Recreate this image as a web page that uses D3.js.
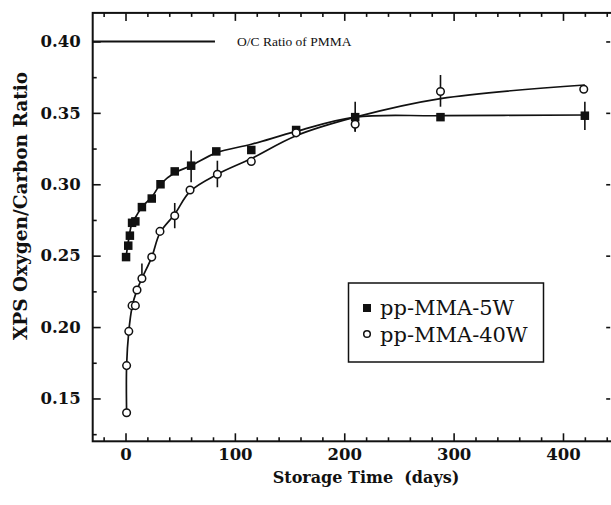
<!DOCTYPE html>
<html><head><meta charset="utf-8">
<script src="https://cdn.jsdelivr.net/npm/d3@7"></script>
<style>html,body{margin:0;padding:0;background:#fff;}svg{display:block;}</style>
</head><body>
<script>
// ---- data ----
const days5W = [0.5, 2.5, 4, 6, 9, 15, 24, 32, 45, 60, 83, 115, 156, 210, 288, 420];
const ratio5W = [0.249, 0.257, 0.264, 0.273, 0.274, 0.284, 0.290, 0.300, 0.309, 0.313, 0.323, 0.324, 0.338, 0.347, 0.347, 0.348];
const days40W = [1, 1, 3, 6, 9, 10.5, 15, 24, 31.5, 45, 59, 84, 115, 156, 210, 288, 419];
const ratio40W = [0.140, 0.173, 0.197, 0.215, 0.215, 0.226, 0.234, 0.249, 0.267, 0.278, 0.296, 0.307, 0.316, 0.336, 0.342, 0.365, 0.3665];
// smooth fit curves drawn through the data
const fitDays5W = [0.5, 3, 6, 10, 15, 24, 32, 45, 60, 83, 115, 156, 210, 288, 420];
const fitRatio5W = [0.249, 0.262, 0.273, 0.278, 0.284, 0.291, 0.300, 0.308, 0.313, 0.322, 0.328, 0.337, 0.347, 0.348, 0.3485];
const fitDays40W = [1, 1, 3, 6, 10, 15, 24, 31.5, 45, 59, 84, 115, 156, 210, 288, 420];
const fitRatio40W = [0.140, 0.173, 0.197, 0.214, 0.225, 0.234, 0.249, 0.266, 0.279, 0.295, 0.307, 0.318, 0.334, 0.347, 0.360, 0.3695];
// error bars
const errDays5W = [60, 210, 420];
const errLo5W = [0.3014, 0.3368, 0.338];
const errHi5W = [0.3236, 0.3578, 0.3578];
const errDays40W = [15, 45, 84, 210, 288];
const errLo40W = [0.234, 0.2692, 0.2979, 0.337, 0.3543];
const errHi40W = [0.2445, 0.2869, 0.3165, 0.349, 0.3765];
const pmmaRatio = 0.40;
const xTicks = [0, 100, 200, 300, 400];
const yTicks = [0.15, 0.20, 0.25, 0.30, 0.35, 0.40];
const seriesNames = ["pp-MMA-5W", "pp-MMA-40W"];
const pmmaLabel = "O/C Ratio of PMMA";
const xTitle = "Storage Time  (days)";
const yTitle = "XPS Oxygen/Carbon Ratio";

const W = 611, H = 505;
const svg = d3.select("body").append("svg").attr("width", W).attr("height", H);
const x = d3.scaleLinear().domain([-30, 445]).range([92.7, 612.2]);
const y = d3.scaleLinear().domain([0.12, 0.42]).range([441.3, 12.9]);
const x0 = x.range()[0], x1 = x.range()[1], yb = y.range()[0], yt = y.range()[1];

const g = svg.append("g");

// minor/major ticks
const xMinor = d3.range(-20, 445, 20).filter(v => xTicks.indexOf(v) < 0);
const yMinor = d3.range(0.125, 0.42, 0.025).filter(v => !yTicks.some(t => Math.abs(t - v) < 1e-6));

const bottom = d3.axisBottom(x).tickValues(xTicks).tickSize(-8).tickFormat(d3.format("d")).tickPadding(7);
g.append("g").attr("transform", `translate(0,${yb})`).call(bottom);
g.append("g").attr("transform", `translate(0,${yb})`).call(d3.axisBottom(x).tickValues(xMinor).tickSize(-4).tickFormat(""));
g.append("g").attr("transform", `translate(0,${yt})`).call(d3.axisTop(x).tickValues(xTicks).tickSize(-8).tickFormat(""));
g.append("g").attr("transform", `translate(0,${yt})`).call(d3.axisTop(x).tickValues(xMinor).tickSize(-4).tickFormat(""));

const left = d3.axisLeft(y).tickValues(yTicks).tickSize(-8).tickFormat(d3.format(".2f")).tickPadding(12);
g.append("g").attr("transform", `translate(${x0},0)`).call(left);
g.append("g").attr("transform", `translate(${x0},0)`).call(d3.axisLeft(y).tickValues(yMinor).tickSize(-4).tickFormat(""));
g.append("g").attr("transform", `translate(${x1 - 2},0)`).call(d3.axisRight(y).tickValues(yTicks).tickSize(-4).tickFormat(""));

g.selectAll(".domain").remove();
g.selectAll(".tick line").attr("stroke", "#111").attr("stroke-width", 1.6);
g.selectAll(".tick text").attr("font-family", "'DejaVu Serif', serif").attr("font-weight", "bold")
  .attr("font-size", 16.5).attr("fill", "#111");

// frame
svg.append("rect").attr("x", x0).attr("y", yt).attr("width", x1 - x0).attr("height", yb - yt)
  .attr("fill", "none").attr("stroke", "#111").attr("stroke-width", 2);

// PMMA reference line
svg.append("line").attr("x1", x0).attr("x2", x(81.8)).attr("y1", y(pmmaRatio)).attr("y2", y(pmmaRatio))
  .attr("stroke", "#111").attr("stroke-width", 2);
svg.append("text").attr("x", x(102)).attr("y", y(pmmaRatio) + 4.5).text(pmmaLabel)
  .attr("font-family", "'Liberation Serif', serif").attr("font-size", 13.5).attr("fill", "#111");

// fit lines
const line = d3.line().x(d => x(d[0])).y(d => y(d[1])).curve(d3.curveCatmullRom.alpha(0.5));
const fit5 = fitDays5W.map((d, i) => [d, fitRatio5W[i]]);
const fit40 = fitDays40W.map((d, i) => [d, fitRatio40W[i]]);
svg.append("path").attr("d", line(fit5)).attr("fill", "none").attr("stroke", "#111").attr("stroke-width", 1.7);
svg.append("path").attr("d", line(fit40)).attr("fill", "none").attr("stroke", "#111").attr("stroke-width", 1.7);

// error bars
function errBars(ds, lo, hi) {
  svg.append("g").selectAll("line").data(ds).join("line")
    .attr("x1", d => x(d)).attr("x2", d => x(d))
    .attr("y1", (d, i) => y(lo[i])).attr("y2", (d, i) => y(hi[i]))
    .attr("stroke", "#111").attr("stroke-width", 1.6);
}
errBars(errDays5W, errLo5W, errHi5W);
errBars(errDays40W, errLo40W, errHi40W);

// markers
const s = 8.5;
svg.append("g").selectAll("rect").data(days5W).join("rect")
  .attr("x", d => x(d) - s / 2).attr("y", (d, i) => y(ratio5W[i]) - s / 2)
  .attr("width", s).attr("height", s).attr("fill", "#111");
svg.append("g").selectAll("circle").data(days40W).join("circle")
  .attr("cx", d => x(d)).attr("cy", (d, i) => y(ratio40W[i])).attr("r", 3.8)
  .attr("fill", "#fff").attr("stroke", "#111").attr("stroke-width", 1.5);

// legend
const lg = svg.append("g");
lg.append("rect").attr("x", 348.5).attr("y", 283).attr("width", 195).attr("height", 79)
  .attr("fill", "#fff").attr("stroke", "#111").attr("stroke-width", 1.5);
lg.append("rect").attr("x", 363).attr("y", 304).attr("width", 8).attr("height", 8).attr("fill", "#111");
lg.append("circle").attr("cx", 367).attr("cy", 334).attr("r", 3.3).attr("fill", "#fff").attr("stroke", "#111").attr("stroke-width", 1.5);
lg.selectAll("text").data(seriesNames).join("text")
  .attr("x", 380).attr("y", (d, i) => 315 + i * 26.5).text(d => d)
  .attr("font-family", "'DejaVu Serif', serif").attr("font-size", 21).attr("fill", "#111");

// axis titles
svg.append("text").attr("x", 366).attr("y", 483).attr("text-anchor", "middle").text(xTitle)
  .attr("font-family", "'DejaVu Serif', serif").attr("font-weight", "bold").attr("font-size", 16)
  .attr("fill", "#111").style("white-space", "pre");
svg.append("text").attr("transform", "translate(27,206) rotate(-90)").attr("text-anchor", "middle").text(yTitle)
  .attr("font-family", "'DejaVu Serif', serif").attr("font-weight", "bold").attr("font-size", 18.5)
  .attr("fill", "#111");
</script>
</body></html>
